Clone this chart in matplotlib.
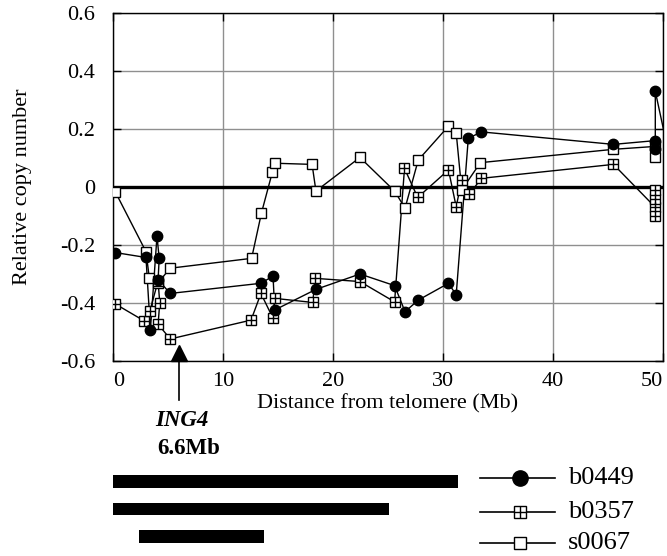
import matplotlib
matplotlib.use('Agg')
import matplotlib.pyplot as plt
from matplotlib.lines import Line2D

plt.rcParams['font.family'] = ['Liberation Serif', 'DejaVu Serif']

# Copy number profiles (distance in Mb, relative copy number)
b0449_x = [0.2, 3.0, 3.4, 4.0, 4.2, 4.1, 5.2, 13.45, 14.55, 14.7, 18.45, 22.45, 25.6, 26.55,
           27.75, 30.5, 31.2, 32.3, 33.5, 45.5, 49.3, 49.3, 49.3, 51.0]
b0449_y = [-0.226, -0.243, -0.493, -0.169, -0.246, -0.32, -0.367, -0.332, -0.307, -0.424, -0.353,
           -0.30, -0.34, -0.43, -0.39, -0.332, -0.372, 0.168, 0.19, 0.147, 0.16, 0.13, 0.33, 0.03]

b0357_x = [0.2, 2.85, 3.35, 4.1, 4.25, 4.1, 5.2, 12.55, 13.45, 14.55, 14.7, 18.15, 18.4, 22.45,
           25.6, 26.5, 27.7, 30.5, 31.2, 31.7, 32.4, 33.5, 45.5, 49.3, 49.3, 49.3, 49.3]
b0357_y = [-0.403, -0.462, -0.428, -0.324, -0.40, -0.473, -0.524, -0.459, -0.367, -0.453, -0.384,
           -0.398, -0.315, -0.326, -0.396, 0.064, -0.036, 0.059, -0.068, 0.024, -0.024, 0.03, 0.078,
           -0.07, -0.10, -0.04, -0.01]

s0067_x = [0.2, 3.0, 3.3, 4.1, 5.2, 12.6, 13.5, 14.5, 14.7, 18.1, 18.45, 22.45, 25.6, 26.55,
           27.75, 30.5, 31.2, 31.7, 33.4, 45.5, 49.3, 49.3]
s0067_y = [-0.016, -0.223, -0.313, -0.33, -0.28, -0.246, -0.089, 0.053, 0.082, 0.078, -0.014,
           0.102, -0.014, -0.073, 0.093, 0.21, 0.187, -0.01, 0.084, 0.13, 0.14, 0.105]

series_names = ['b0449', 'b0357', 's0067']

# Deleted regions (start, end in Mb)
region_start = [-0.2, -0.2, 2.4]
region_end = [31.4, 25.1, 13.7]

ing4_pos = 6.0
ing4_label = 'ING4'
ing4_dist = '6.6Mb'

x_ticks = [0, 10, 20, 30, 40, 50]
y_ticks = [-0.6, -0.4, -0.2, 0, 0.2, 0.4, 0.6]
y_tick_labels = ['-0.6', '-0.4', '-0.2', '0', '0.2', '0.4', '0.6']

fig = plt.figure(figsize=(6.67, 5.56), dpi=100)
ax = fig.add_axes([0.1694, 0.3507, 0.8246, 0.6259])

ax.grid(True, color='#8f8f8f', linewidth=1.0)
ax.set_axisbelow(True)
ax.axhline(0, color='black', linewidth=2.4, zorder=2)

line_kw = dict(color='black', linewidth=1.0, zorder=3)


def crossed(x, y, ms):
    ax.plot(x, y, 's', markersize=ms, markerfacecolor='white', markeredgecolor='black',
            markeredgewidth=1.0, zorder=4)
    ax.plot(x, y, '+', markersize=ms, markeredgecolor='black', markeredgewidth=1.0, zorder=5)


ax.plot(s0067_x, s0067_y, **line_kw)
ax.plot(s0067_x, s0067_y, 's', markersize=7, markerfacecolor='white', markeredgecolor='black',
        markeredgewidth=1.0, zorder=4)
ax.plot(b0357_x, b0357_y, **line_kw)
crossed(b0357_x, b0357_y, 7)
ax.plot(b0449_x, b0449_y, **line_kw)
ax.plot(b0449_x, b0449_y, 'o', markersize=7.5, color='black', zorder=6)

ax.set_xlim(0, 50)
ax.set_ylim(-0.6, 0.6)
ax.set_xticks(x_ticks)
ax.set_yticks(y_ticks)
ax.set_yticklabels(y_tick_labels)
ax.tick_params(direction='in', length=6, width=1, labelsize=16, top=True, right=True)
ax.tick_params(axis='y', pad=13)
ax.tick_params(axis='x', pad=8)
xlabels = ax.get_xticklabels()
xlabels[0].set_horizontalalignment('left')
xlabels[-1].set_horizontalalignment('right')
for s in ax.spines.values():
    s.set_linewidth(1.0)

ax.set_xlabel('Distance from telomere (Mb)', fontsize=16, labelpad=2)
ax.set_ylabel('Relative copy number', fontsize=16, labelpad=20)

# ING4 marker arrow
ax.plot([ing4_pos], [-0.5725], '^', markersize=12, color='black', clip_on=False, zorder=7)
trans = ax.get_xaxis_transform()
ax.plot([ing4_pos, ing4_pos], [0, -0.112], color='black', linewidth=1.2, transform=trans,
        clip_on=False)
ax.text(ing4_pos + 0.3, -0.17, ing4_label, transform=trans, ha='center', va='center',
        fontsize=16.5, fontweight='bold', fontstyle='italic')
ax.text(ing4_pos + 0.9, -0.25, ing4_dist, transform=trans, ha='center', va='center',
        fontsize=16.5, fontweight='bold')

# Deleted region bars
bax = fig.add_axes([0.1694, 1 - 550 / 556, 0.8246, 82 / 556])
rows = [3, 2, 1]
bax.barh(rows, [e - s for s, e in zip(region_start, region_end)], left=region_start,
         height=0.47, color='black')
bax.set_xlim(0, 50)
bax.set_ylim(0.51, 3.49)
bax.axis('off')

# Legend drawn by hand
leg_y = [478, 512, 543]
styles = [dict(marker='o', markersize=11, color='black'),
          None,
          dict(marker='s', markersize=8, markerfacecolor='white', markeredgecolor='black',
               markeredgewidth=1.0)]
for name, py, st in zip(series_names, leg_y, styles):
    yf = 1 - py / 556
    fig.add_artist(Line2D([480 / 667, 555 / 667], [yf, yf], color='black', linewidth=1.2))
    if st is None:
        fig.add_artist(Line2D([520 / 667], [yf], marker='s', markersize=8, markerfacecolor='white',
                              markeredgecolor='black', markeredgewidth=1.0, linestyle='none'))
        fig.add_artist(Line2D([520 / 667], [yf], marker='+', markersize=8, markeredgecolor='black',
                              markeredgewidth=1.0, linestyle='none'))
    else:
        fig.add_artist(Line2D([520 / 667], [yf], linestyle='none', **st))
    fig.text(568 / 667, yf, name, fontsize=19, va='center', ha='left')

fig.savefig('out.png', dpi=100, facecolor='white')
